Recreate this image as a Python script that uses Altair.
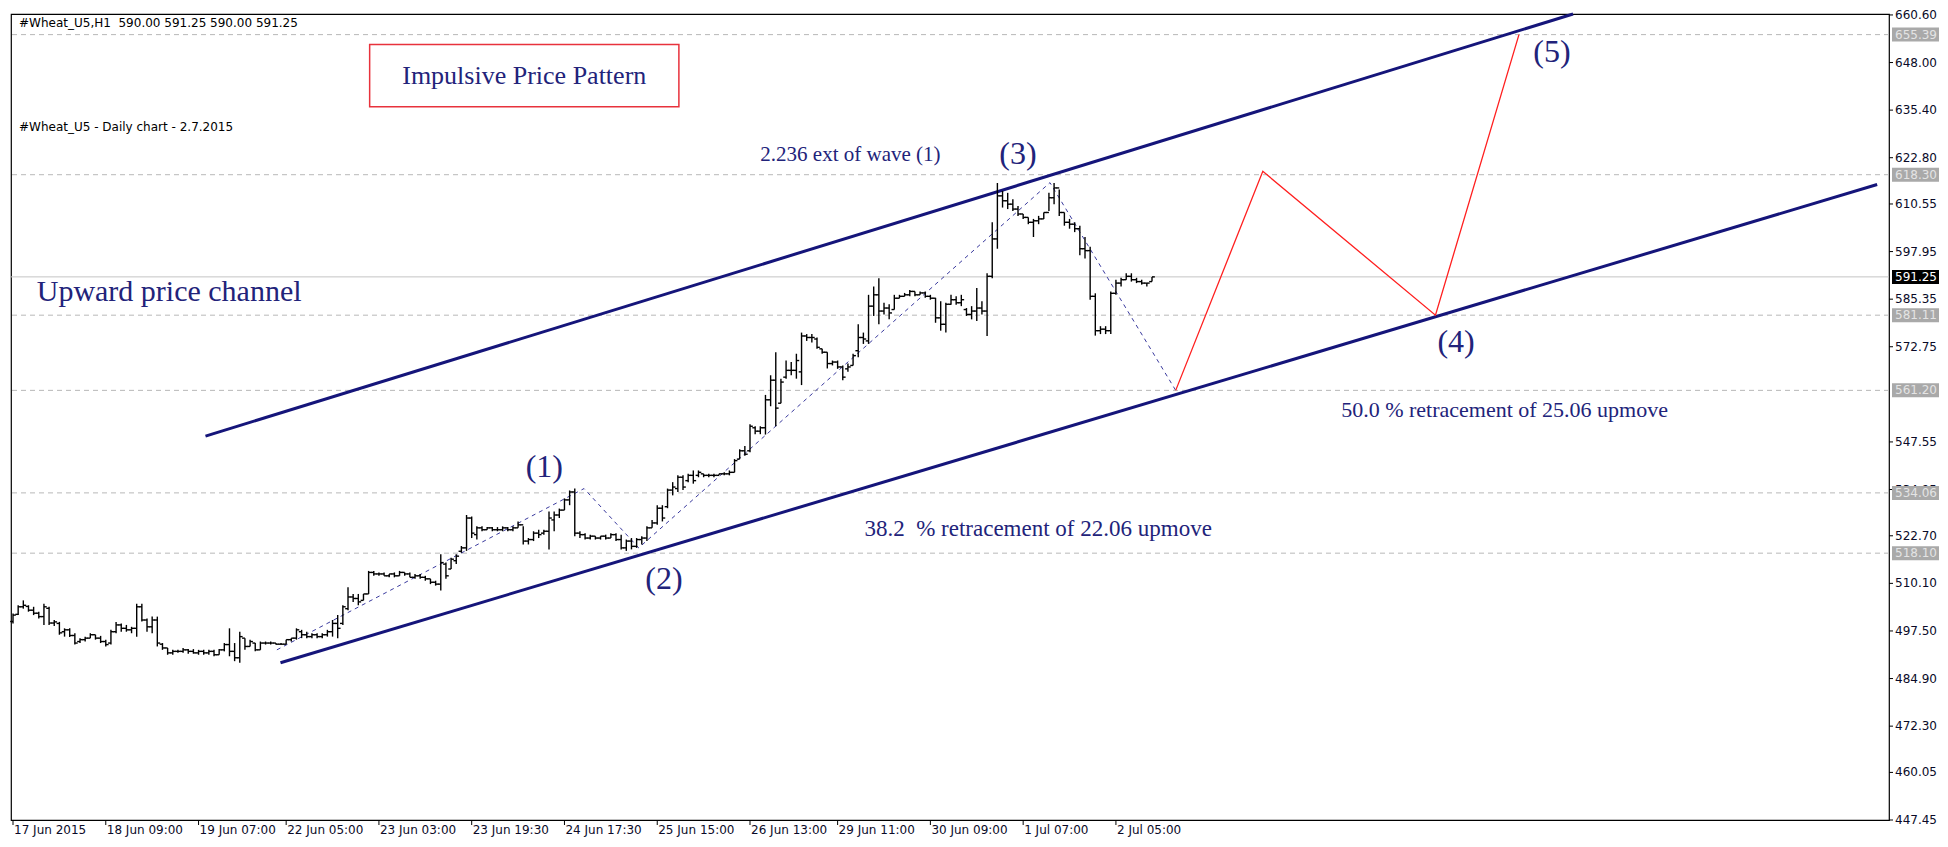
import altair as alt
import pandas as pd

# ---------------- OHLC data (hourly bars) ----------------
opens = [500.0, 501.9, 503.9, 504.0, 503.0, 502.2, 501.3, 503.5, 499.6, 499.5,
         497.3, 497.8, 496.3, 494.7, 495.2, 495.6, 496.5, 495.6, 494.7, 494.3,
         497.3, 499.1, 498.2, 497.8, 498.2, 503.9, 500.4, 498.6, 500.4, 494.0,
         493.0, 491.7, 492.1, 492.1, 492.5, 492.1, 491.7, 492.1, 491.7, 492.1,
         491.2, 492.5, 493.9, 492.1, 490.4, 495.6, 493.4, 494.3, 492.5, 494.3,
         494.3, 494.3, 494.0, 494.0, 495.2, 495.6, 497.3, 496.5, 496.0, 496.5,
         496.0, 496.5, 497.3, 499.5, 499.5, 503.4, 506.5, 506.1, 505.6, 507.3,
         513.0, 512.6, 512.6, 512.1, 512.6, 512.1, 513.0, 512.6, 511.7, 512.1,
         511.7, 511.3, 510.4, 509.9, 515.2, 513.9, 516.1, 518.6, 519.5, 527.4,
         523.0, 524.8, 524.3, 524.8, 524.3, 524.3, 524.8, 524.3, 524.8, 525.6,
         521.3, 521.7, 523.4, 523.4, 523.9, 526.9, 528.2, 529.5, 532.2, 534.3,
         523.4, 523.0, 522.1, 522.6, 522.1, 522.6, 522.1, 523.0, 521.7, 519.5,
         521.3, 519.9, 521.7, 522.1, 524.8, 526.1, 530.0, 530.4, 534.8, 535.2,
         538.2, 537.3, 538.7, 538.7, 539.1, 538.7, 538.7, 538.7, 539.1, 539.1,
         539.5, 543.0, 545.2, 545.2, 551.3, 550.4, 551.3, 558.7, 563.9, 557.8,
         564.7, 566.5, 566.5, 566.1, 575.6, 575.2, 574.8, 572.2, 571.3, 568.3,
         568.7, 567.4, 566.9, 567.8, 571.7, 575.2, 574.3, 583.5, 586.5, 582.2,
         583.0, 582.6, 585.6, 586.1, 586.5, 587.4, 586.5, 587.0, 586.1, 585.6,
         580.4, 578.7, 584.0, 585.2, 584.4, 582.6, 581.3, 582.2, 583.0, 582.2,
         591.4, 601.3, 612.7, 611.4, 610.5, 609.2, 607.9, 607.0, 605.7, 606.1,
         606.6, 608.3, 612.2, 614.8, 608.3, 605.7, 605.2, 604.0, 598.7, 598.2,
         586.1, 577.0, 577.4, 577.0, 586.9, 589.6, 590.5, 591.4, 590.5, 590.0,
         589.6, 590.0]
highs = [502.1, 504.3, 505.6, 504.3, 503.9, 502.6, 504.7, 503.9, 500.4, 499.9,
         498.2, 498.2, 496.9, 495.6, 496.0, 496.9, 496.5, 496.2, 495.2, 497.8,
         499.9, 499.5, 499.1, 498.6, 504.7, 504.7, 500.8, 501.3, 501.3, 494.3,
         493.0, 492.5, 492.5, 493.0, 492.7, 492.7, 492.5, 492.5, 492.5, 492.5,
         492.7, 494.3, 498.2, 494.3, 497.3, 495.6, 495.2, 494.3, 494.7, 494.7,
         494.7, 494.3, 494.3, 495.2, 495.6, 498.2, 497.8, 497.3, 496.9, 496.9,
         496.9, 497.8, 500.4, 501.7, 504.3, 509.1, 507.3, 507.3, 507.3, 513.4,
         513.4, 513.0, 513.0, 512.6, 513.0, 513.4, 513.0, 513.0, 512.6, 512.6,
         512.1, 511.3, 510.8, 517.8, 515.6, 516.9, 517.8, 520.0, 528.2, 527.8,
         525.2, 525.2, 525.0, 525.0, 525.0, 525.2, 525.0, 525.2, 526.5, 525.2,
         522.1, 523.9, 524.3, 524.3, 529.1, 529.1, 529.9, 532.6, 534.7, 535.2,
         523.9, 523.4, 523.0, 522.6, 522.6, 523.0, 523.4, 523.4, 523.0, 521.7,
         522.1, 522.1, 522.6, 525.2, 526.9, 530.8, 530.8, 535.2, 536.9, 538.7,
         538.7, 539.1, 540.0, 540.0, 539.1, 539.1, 539.1, 539.1, 539.5, 540.0,
         543.0, 545.6, 546.5, 552.2, 551.7, 551.7, 560.0, 565.2, 571.3, 564.3,
         569.1, 568.7, 570.9, 576.5, 576.1, 576.1, 575.2, 572.2, 571.3, 569.1,
         569.1, 567.8, 568.3, 570.9, 578.7, 576.5, 586.5, 588.7, 590.9, 584.4,
         584.0, 586.5, 586.5, 587.0, 587.8, 587.4, 587.4, 587.4, 586.5, 585.7,
         584.8, 584.4, 586.5, 586.1, 586.5, 583.0, 583.5, 588.3, 584.8, 592.2,
         605.7, 616.1, 614.0, 613.5, 611.8, 610.0, 607.9, 607.0, 606.6, 607.4,
         608.3, 613.5, 616.1, 614.4, 608.3, 606.6, 605.7, 604.8, 601.8, 599.2,
         586.9, 578.2, 578.2, 587.4, 590.5, 591.0, 592.2, 592.2, 591.0, 590.5,
         589.6, 591.25]
lows = [499.5, 501.7, 503.4, 502.6, 501.7, 500.8, 499.1, 499.1, 498.8, 496.5,
        496.0, 495.9, 493.9, 494.3, 494.7, 495.6, 495.2, 494.3, 493.4, 493.9,
        496.9, 497.3, 497.3, 496.9, 496.0, 500.0, 497.3, 496.9, 493.4, 492.5,
        491.2, 491.2, 491.7, 491.7, 491.5, 491.5, 491.2, 491.2, 491.2, 490.8,
        491.2, 492.1, 490.8, 489.5, 489.1, 492.5, 493.4, 492.1, 492.5, 493.9,
        493.9, 493.9, 493.9, 493.9, 494.7, 495.2, 495.6, 495.6, 495.6, 495.6,
        495.6, 496.0, 496.0, 495.6, 499.1, 503.0, 505.2, 504.3, 505.6, 507.3,
        512.1, 512.1, 512.1, 511.7, 511.7, 512.1, 512.1, 511.7, 511.3, 511.3,
        510.8, 509.9, 509.5, 508.2, 511.3, 513.9, 515.2, 518.2, 518.7, 522.1,
        521.7, 523.9, 524.3, 523.9, 523.9, 523.9, 523.9, 523.9, 524.8, 520.4,
        520.4, 521.3, 522.1, 523.0, 519.1, 523.9, 527.4, 529.5, 530.8, 522.6,
        522.1, 521.7, 521.7, 521.7, 521.7, 521.7, 522.1, 521.3, 519.1, 518.7,
        519.1, 519.5, 520.4, 521.3, 524.8, 525.6, 526.5, 530.0, 533.4, 534.3,
        534.8, 536.9, 536.5, 538.2, 538.2, 538.2, 538.2, 538.7, 538.7, 538.7,
        539.5, 543.0, 543.9, 544.8, 549.6, 549.6, 549.5, 557.0, 551.7, 557.8,
        564.3, 565.2, 564.3, 562.6, 574.3, 573.9, 572.2, 570.9, 567.0, 567.8,
        566.9, 563.9, 566.1, 567.8, 570.0, 573.5, 573.5, 580.9, 578.7, 581.3,
        580.0, 582.6, 585.6, 586.1, 586.1, 586.1, 586.5, 585.7, 585.2, 579.1,
        577.0, 576.5, 583.9, 583.9, 583.5, 580.9, 580.0, 579.6, 581.3, 575.6,
        590.9, 598.7, 609.6, 609.2, 608.7, 607.4, 606.6, 605.2, 601.8, 605.2,
        606.6, 608.7, 610.5, 607.4, 604.8, 604.0, 603.1, 597.0, 596.1, 585.2,
        575.7, 576.1, 576.1, 576.1, 586.5, 588.7, 590.5, 590.0, 589.6, 589.2,
        588.7, 590.0]
closes = [501.7, 503.9, 504.3, 503.0, 502.2, 501.3, 503.9, 499.6, 499.9, 497.0,
          497.8, 496.3, 494.3, 495.2, 495.6, 496.5, 495.6, 494.7, 493.9, 497.3,
          499.1, 498.2, 497.8, 498.2, 503.9, 500.4, 498.6, 500.4, 494.3, 493.0,
          491.7, 492.1, 492.1, 492.5, 492.1, 491.7, 492.1, 491.7, 492.1, 491.2,
          492.5, 493.9, 492.1, 490.4, 496.0, 493.4, 494.7, 492.5, 494.3, 494.3,
          494.3, 494.0, 494.0, 495.2, 495.6, 497.8, 496.5, 496.0, 496.5, 496.0,
          496.5, 497.3, 499.5, 498.2, 503.9, 506.5, 506.1, 505.2, 507.3, 513.0,
          512.6, 512.6, 512.1, 512.6, 512.1, 513.0, 512.6, 511.7, 512.1, 511.7,
          511.3, 510.4, 509.9, 515.6, 512.1, 516.5, 517.3, 519.5, 527.4, 523.4,
          524.8, 524.3, 524.8, 524.3, 524.3, 524.8, 524.3, 524.8, 525.6, 521.3,
          521.7, 523.4, 523.0, 523.9, 527.4, 528.2, 529.5, 532.2, 534.3, 523.4,
          523.0, 522.1, 522.6, 522.1, 522.6, 522.1, 523.0, 521.7, 519.5, 521.3,
          519.9, 521.7, 522.1, 524.8, 526.1, 530.0, 527.4, 534.8, 535.6, 538.2,
          535.6, 538.7, 537.3, 539.5, 538.7, 538.7, 538.7, 539.1, 539.1, 539.5,
          542.6, 545.2, 544.3, 551.7, 550.4, 551.3, 558.7, 563.9, 556.5, 563.4,
          566.5, 566.5, 569.1, 575.6, 575.2, 575.2, 572.6, 571.3, 568.3, 568.7,
          567.4, 564.7, 567.4, 570.4, 575.2, 574.8, 583.5, 586.5, 582.2, 583.0,
          581.7, 585.6, 586.1, 586.5, 587.4, 586.5, 587.0, 586.1, 585.6, 580.4,
          578.7, 584.0, 585.2, 584.4, 585.2, 581.3, 582.2, 583.0, 582.2, 591.4,
          601.3, 612.7, 611.4, 610.5, 609.2, 607.9, 607.0, 605.7, 606.1, 606.6,
          608.3, 612.2, 614.8, 608.3, 605.7, 605.2, 604.0, 598.7, 598.2, 586.1,
          577.0, 577.4, 577.0, 586.9, 589.6, 590.5, 591.4, 590.5, 590.0, 589.6,
          589.6, 591.25]

# ---------------- axes ----------------
x_tick_pos = [0, 18, 36, 53, 71, 89, 107, 125, 143, 160, 178, 196, 214]
x_tick_lab = ["17 Jun 2015", "18 Jun 09:00", "19 Jun 07:00", "22 Jun 05:00",
              "23 Jun 03:00", "23 Jun 19:30", "24 Jun 17:30", "25 Jun 15:00",
              "26 Jun 13:00", "29 Jun 11:00", "30 Jun 09:00", "1 Jul 07:00",
              "2 Jul 05:00"]
y_tick_vals = [660.60, 648.00, 635.40, 622.80, 610.55, 597.95, 585.35, 572.75,
               547.55, 534.95, 522.70, 510.10, 497.50, 484.90, 472.30,
               460.05, 447.45]

# ---------------- annotation data ----------------
level_vals = [655.39, 618.30, 581.11, 561.20, 534.06, 518.10]
last_price = [591.25]

chan_id = ["upper", "upper", "lower", "lower"]
chan_x = [37.35, 302.7, 51.9, 361.7]
chan_y = [549.1, 660.85, 489.1, 615.7]

wave_x = [51.2, 110.8, 121.4, 201.2, 225.6]
wave_y = [492.5, 535.2, 519.5, 616.2, 561.2]

proj_x = [225.6, 242.5, 276.0, 292.2]
proj_y = [561.2, 619.2, 581.1, 655.4]

wave_lab = ["(1)", "(2)", "(3)", "(4)", "(5)"]
wave_lab_x = [103.1, 126.3, 195.0, 280.0, 298.6]
wave_lab_y = [540.8, 511.3, 623.8, 573.9, 650.9]

note_txt = ["Upward price channel", "2.236 ext of wave (1)",
            "38.2\u00a0 % retracement of 22.06 upmove",
            "50.0 % retracement of 25.06 upmove"]
note_x = [4.6, 145.0, 165.2, 257.7]
note_y = [587.2, 623.5, 524.6, 555.9]
note_size = [30, 21, 23, 22]

title_txt = ["Impulsive Price Pattern"]
title_box = {"x": [69.2], "x2": [129.2], "y": [652.75], "y2": [636.3]}

header_lines = ["#Wheat_U5,H1\u00a0 590.00 591.25 590.00 591.25",
                "#Wheat_U5 - Daily chart - 2.7.2015"]

# ---------------- build chart ----------------
W, H = 1878, 806
NAVY = "#15157a"
TXT = "#22237a"
AXF = "DejaVu Sans"

xs = alt.Scale(domain=[-0.39, 364.0], nice=False, zero=False)
ys = alt.Scale(domain=[447.45, 660.85], nice=False, zero=False)


def X(f):
    return alt.X(f, scale=xs, axis=None)


def Y(f):
    return alt.Y(f, scale=ys, axis=None)


bars = pd.DataFrame({"i": list(range(len(highs))), "o": opens, "h": highs,
                     "l": lows, "c": closes})
base = alt.Chart(bars)

hl = base.mark_rule(color="#000", strokeWidth=1.4).encode(
    x=X("i:Q"), y=Y("l:Q"), y2="h:Q")
otick = base.transform_calculate(xl="datum.i - 0.55").mark_rule(
    color="#000", strokeWidth=1.4).encode(x=X("xl:Q"), x2="i:Q", y=Y("o:Q"))
ctick = base.transform_calculate(xr="datum.i + 0.55").mark_rule(
    color="#000", strokeWidth=1.4).encode(x=X("i:Q"), x2="xr:Q", y=Y("c:Q"))

levels = alt.Chart(pd.DataFrame({"v": level_vals})).mark_rule(
    color="#b8b8b8", strokeDash=[5, 4], strokeWidth=1).encode(y=Y("v:Q"))
lastline = alt.Chart(pd.DataFrame({"v": last_price})).mark_rule(
    color="#c4c4c4", strokeWidth=1).encode(y=Y("v:Q"))

chan = alt.Chart(pd.DataFrame({"id": chan_id, "x": chan_x, "y": chan_y})).mark_line(
    color=NAVY, strokeWidth=3).encode(x=X("x:Q"), y=Y("y:Q"), detail="id:N")

wave = alt.Chart(pd.DataFrame({"x": wave_x, "y": wave_y})).mark_line(
    color="#3a3a9e", strokeWidth=1, strokeDash=[4, 4]).encode(x=X("x:Q"), y=Y("y:Q"))

proj = alt.Chart(pd.DataFrame({"x": proj_x, "y": proj_y})).mark_line(
    color="#ff1f1f", strokeWidth=1.3).encode(x=X("x:Q"), y=Y("y:Q"))

wlab = alt.Chart(pd.DataFrame({"t": wave_lab, "x": wave_lab_x, "y": wave_lab_y})).mark_text(
    font="Liberation Serif", fontSize=32, color=TXT, align="center",
    baseline="middle").encode(x=X("x:Q"), y=Y("y:Q"), text="t:N")

notes = alt.Chart(pd.DataFrame({"t": note_txt, "x": note_x, "y": note_y, "s": note_size})).mark_text(
    font="Liberation Serif", color=TXT, align="left", baseline="middle").encode(
    x=X("x:Q"), y=Y("y:Q"), text="t:N", size=alt.Size("s:Q", scale=None, legend=None))

tbox = alt.Chart(pd.DataFrame(title_box)).mark_rect(
    fillOpacity=0, stroke="#e8323c", strokeWidth=1.5).encode(
    x=X("x:Q"), x2="x2:Q", y=Y("y:Q"), y2="y2:Q")
ttext = alt.Chart(pd.DataFrame({"t": title_txt, "x": [99.2], "y": [644.5]})).mark_text(
    font="Liberation Serif", fontSize=26, color=TXT, align="center",
    baseline="middle").encode(x=X("x:Q"), y=Y("y:Q"), text="t:N")

hdr = alt.Chart(pd.DataFrame({"t": header_lines, "yp": [9, 113]})).mark_text(
    font=AXF, fontSize=12, color="#000", align="left", baseline="middle").encode(
    x=alt.value(8), y=alt.Y("yp:Q", scale=None, axis=None), text="t:N")

# ----- right price axis (drawn as marks) -----
yt_df = pd.DataFrame({"v": y_tick_vals, "t": [f"{v:.2f}" for v in y_tick_vals]})
ytk = alt.Chart(yt_df).mark_rule(color="#000", strokeWidth=1).encode(
    x=alt.value(W), x2=alt.value(W + 4), y=Y("v:Q"))
ylab = alt.Chart(yt_df).mark_text(font=AXF, fontSize=12, color="#0a0a28",
                                  align="left", baseline="middle").encode(
    x=alt.value(W + 6), y=Y("v:Q"), text="t:N")

lvl_df = pd.DataFrame({"v": level_vals, "t": [f"{v:.2f}" for v in level_vals]})
lbox = alt.Chart(lvl_df).mark_rule(color="#a9a9a9", strokeWidth=14).encode(
    x=alt.value(W + 3), x2=alt.value(W + 50), y=Y("v:Q"))
ltxt = alt.Chart(lvl_df).mark_text(font=AXF, fontSize=12, color="#e4e4e4",
                                   align="left", baseline="middle").encode(
    x=alt.value(W + 6), y=Y("v:Q"), text="t:N")
lp_df = pd.DataFrame({"v": last_price, "t": [f"{v:.2f}" for v in last_price]})
pbox = alt.Chart(lp_df).mark_rule(color="#000", strokeWidth=14).encode(
    x=alt.value(W + 3), x2=alt.value(W + 50), y=Y("v:Q"))
ptxt = alt.Chart(lp_df).mark_text(font=AXF, fontSize=12, color="#fff",
                                  align="left", baseline="middle").encode(
    x=alt.value(W + 6), y=Y("v:Q"), text="t:N")

# ----- bottom time axis (drawn as marks) -----
xt_df = pd.DataFrame({"p": x_tick_pos, "t": x_tick_lab})
xtk = alt.Chart(xt_df).mark_rule(color="#000", strokeWidth=1).encode(
    x=X("p:Q"), y=alt.value(H), y2=alt.value(H + 5))
xlab = alt.Chart(xt_df).mark_text(font=AXF, fontSize=12, color="#0a0a28",
                                  align="left", baseline="top", dx=1).encode(
    x=X("p:Q"), y=alt.value(H + 5), text="t:N")

chart = alt.layer(
    levels, lastline, chan, wave, proj, hl, otick, ctick,
    wlab, notes, tbox, ttext, hdr, ytk, ylab, lbox, ltxt, pbox, ptxt, xtk, xlab
).properties(
    width=W, height=H,
    autosize=alt.AutoSizeParams(type="none"),
    padding={"left": 3, "top": 6, "right": 50, "bottom": 19},
    background="#ffffff",
).configure_view(stroke="#000", strokeWidth=1.2)

chart.save("out.html", embed_options={"renderer": "svg", "actions": False})
